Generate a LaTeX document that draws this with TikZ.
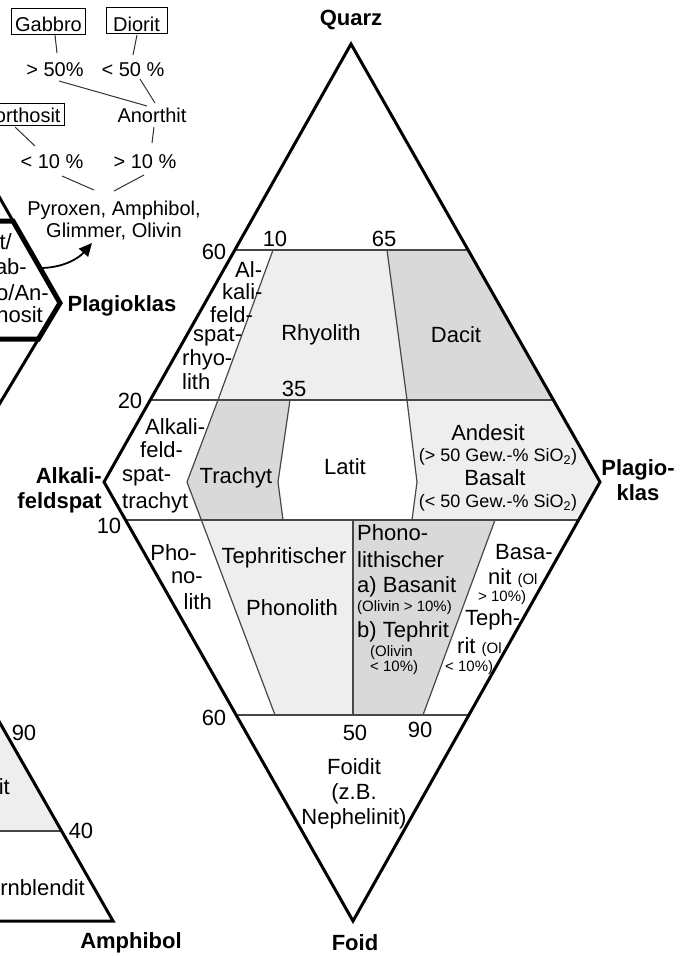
\documentclass[tikz,border=0pt]{standalone}
\usepackage{fontspec}
\setmainfont{Liberation Sans}
\usetikzlibrary{calc,arrows.meta}
\definecolor{lg}{gray}{0.935}
\definecolor{mg}{gray}{0.85}
\begin{document}
\begin{tikzpicture}[x=1pt,y=-1pt,
  rim/.style={line width=3pt, line join=miter},
  hexa/.style={line width=5pt, line join=miter},
  divl/.style={line width=1.2pt, draw=black!72},
  link/.style={line width=1pt, draw=black!80},
  lab/.style={inner sep=0pt, font=\fontsize{22}{23}\selectfont},
  blab/.style={inner sep=0pt, font=\fontsize{22}{25}\selectfont\bfseries},
  mid/.style={inner sep=0pt, font=\fontsize{18}{20}\selectfont},
  sml/.style={inner sep=0pt, font=\fontsize{15}{16}\selectfont},
  tree/.style={inner sep=0pt, font=\fontsize{20}{22}\selectfont},
  boxed/.style={tree, draw, line width=0.9pt, inner xsep=4pt, inner ysep=2.5pt, text height=21pt, text depth=0pt},
  boxedb/.style={tree, draw, line width=0.9pt, inner xsep=4pt, inner ysep=3.7pt, text height=15pt, text depth=0pt}]
\useasboundingbox (0,0) rectangle (684,956);
\fill[white] (0,0) rectangle (684,956);
\clip (0,0) rectangle (684,956);

% ---------------- main QAPF diamond ----------------
\coordinate (Q) at (351,44);
\coordinate (A) at (104,482);
\coordinate (P) at (600,482);
\coordinate (F) at (353,921);
\coordinate (q60l) at ($(Q)!0.4703!(A)$);
\coordinate (q60r) at ($(Q)!0.4703!(P)$);
\coordinate (q20l) at ($(Q)!0.8128!(A)$);
\coordinate (q20r) at ($(Q)!0.8128!(P)$);
\coordinate (f10l) at ($(A)!0.0866!(F)$);
\coordinate (f10r) at ($(P)!0.0866!(F)$);
\coordinate (f60l) at ($(A)!0.5308!(F)$);
\coordinate (f60r) at ($(P)!0.5308!(F)$);

% fills
\fill[lg] (273,250) -- (387,250) -- (407,400) -- (218,400) -- cycle;
\fill[mg] (387,250) -- (q60r) -- (q20r) -- (407,400) -- cycle;
\fill[mg] (218,400) -- (290,400) -- (278,482) -- (283,520) -- (201,520) -- (187,482) -- cycle;
\fill[lg] (407,400) -- (q20r) -- (P) -- (f10r) -- (412,520) -- (417,482) -- cycle;
\fill[lg] (201,520) -- (353,520) -- (353,715) -- (275,715) -- cycle;
\fill[mg] (353,520) -- (495,520) -- (423,715) -- (353,715) -- cycle;

% dividing lines
\draw[divl] (273,250) -- (218,400) -- (187,482) -- (275,715);
\draw[divl] (387,250) -- (407,400) -- (417,482) -- (412,520);
\draw[divl] (290,400) -- (278,482) -- (283,520);
\draw[divl] (353,520) -- (353,715);
\draw[divl] (495,520) -- (423,715);
\draw[divl] (q60l) -- (q60r);
\draw[divl] (q20l) -- (q20r);
\draw[divl] (f10l) -- (f10r);
\draw[divl] (f60l) -- (f60r);

\draw[rim] (Q) -- (P) -- (F) -- (A) -- cycle;

% corner labels
\node[blab] (quarz) at (351,20) {Quarz};
\node[blab] (foid) at (355,943) {Foid};
\node[blab, align=center] (plag) at (638,480) {Plagio-\\klas};
\node[blab, align=right, anchor=east] (alk) at (102,490) {Alkali-\\feldspat};

% numbers
\node[lab] (n60a) at (214,252) {60};
\node[lab] (n10a) at (275,239) {10};
\node[lab] (n65) at (384,239) {65};
\node[lab] (n20) at (130,401) {20};
\node[lab] (n35) at (294,389) {35};
\node[lab] (n10b) at (109,526) {10};
\node[lab] (n60b) at (214,718) {60};
\node[lab] (n50) at (355,733) {50};
\node[lab] (n90) at (420,730) {90};

% field labels
\node[lab, anchor=west] (afr1) at (235,270) {Al-};
\node[lab, anchor=west] (afr2) at (222,292) {kali-};
\node[lab, anchor=west] (afr3) at (210,315) {feld-};
\node[lab, anchor=west] (afr4) at (193,337) {spat-};
\node[lab, anchor=west] (afr5) at (182,360) {rhyo-};
\node[lab, anchor=west] (afr6) at (182,382) {lith};
\node[lab] (rhy) at (321,335) {Rhyolith};
\node[lab] (dac) at (456,335) {Dacit};

\node[lab, anchor=west] (aft1) at (145,427) {Alkali-};
\node[lab, anchor=west] (aft2) at (140,450) {feld-};
\node[lab, anchor=west] (aft3) at (122,477) {spat-};
\node[lab, anchor=west] (aft4) at (122,503) {trachyt};
\node[lab] (tra) at (236,478) {Trachyt};
\node[lab] (lat) at (345,467) {Latit};

\node[lab] (and) at (488,433) {Andesit};
\node[mid] (and2) at (498,457) {(> 50 Gew.-\% SiO\textsubscript{2})};
\node[lab] (bas) at (495,478) {Basalt};
\node[mid] (bas2) at (498,503) {(< 50 Gew.-\% SiO\textsubscript{2})};

\node[lab, anchor=east] (ph1) at (197,553) {Pho-};
\node[lab, anchor=east] (ph2) at (203,578) {no-};
\node[lab, anchor=east] (ph3) at (212,602) {lith};
\node[lab] (tp1) at (284,558) {Tephritischer};
\node[lab] (tp2) at (292,608) {Phonolith};

\node[lab, anchor=west] (pb1) at (357,533) {Phono-};
\node[lab, anchor=west] (pb2) at (357,560) {lithischer};
\node[lab, anchor=west] (pb3) at (357,587) {a) Basanit};
\node[sml, anchor=west] (pb4) at (357,608) {(Olivin > 10\%)};
\node[lab, anchor=west] (pb5) at (357,632) {b) Tephrit};
\node[sml, anchor=west] (pb6) at (370,653) {(Olivin};
\node[sml, anchor=west] (pb7) at (370,668) {< 10\%)};

\node[lab, anchor=west] (bt1) at (495,552) {Basa-};
\node[lab, anchor=west] (bt2) at (488,578) {nit {\fontsize{15}{16}\selectfont (Ol}};
\node[sml, anchor=west] (bt3) at (478,598) {> 10\%)};
\node[lab, anchor=west] (bt4) at (465,620) {Teph-};
\node[lab, anchor=west] (bt5) at (457,647) {rit {\fontsize{15}{16}\selectfont (Ol}};
\node[sml, anchor=west] (bt6) at (445,668) {< 10\%)};

\node[lab, align=center, font=\fontsize{22}{25}\selectfont] (foidit) at (354,794) {Foidit\\(z.B.\\Nephelinit)};

% ---------------- left plutonic diagram ----------------
\coordinate (P2) at (60,303);
\draw[rim] (-40,128.5) -- (P2) -- (-40,469.7);
\draw[hexa] (-40,221) -- (13,221) -- (P2) -- (38.4,339) -- (-40,339);
\node[lab, anchor=east] (hx1) at (12,242) {Diorit/};
\node[lab, anchor=east] (hx2) at (27,267) {Gab-};
\node[lab, anchor=east] (hx3) at (49,293) {bro/An-};
\node[lab, anchor=east] (hx4) at (43,315) {orthosit};
\node[blab] (plag2) at (122,306) {Plagioklas};

% ---------------- decision tree ----------------
\node[boxed, anchor=base] (gab) at (48.5,31.5) {Gabbro};
\node[boxed, anchor=base, minimum width=61pt] (dio) at (136.5,31) {Diorit};
\node[tree] (g50) at (55,70) {> 50\%};
\node[tree] (d50) at (133,70) {< 50 \%};
\node[tree] (ant) at (152,115) {Anorthit};
\node[boxedb, anchor=east] (ano) at (65,114.5) {Anorthosit};
\node[tree] (l10) at (52,162) {< 10 \%};
\node[tree] (g10) at (145,162) {> 10 \%};
\node[tree, align=center] (pyr) at (114,221) {Pyroxen, Amphibol,\\Glimmer, Olivin};

\path (55,35) coordinate (c1a) (57,53) coordinate (c1b)
      (137,35) coordinate (c2a) (133,55) coordinate (c2b)
      (59,81) coordinate (c3a) (147,106) coordinate (c3b)
      (140,79) coordinate (c4a) (155,103) coordinate (c4b)
      (15,127) coordinate (c5a) (35,146) coordinate (c5b)
      (154,127) coordinate (c6a) (152,143) coordinate (c6b)
      (62,176) coordinate (c7a) (94,190) coordinate (c7b)
      (144,175) coordinate (c8a) (114,191) coordinate (c8b);
\draw[link] (c1a) -- (c1b);
\draw[link] (c2a) -- (c2b);
\draw[link] (c3a) -- (c3b);
\draw[link] (c4a) -- (c4b);
\draw[link] (c5a) -- (c5b);
\draw[link] (c6a) -- (c6b);
\draw[link] (c7a) -- (c7b);
\draw[link] (c8a) -- (c8b);

\coordinate (arrS) at (40,268);
\coordinate (arrE) at (92,243);
\draw[line width=1.8pt, -{Triangle[length=13pt,width=12pt]}] (arrS) .. controls (62,268) and (78,259) .. (arrE);

% ---------------- lower left triangle ----------------
\coordinate (Am) at (113,921);
\fill[lg] (-40,723) -- (0,723) -- (61.7,831) -- (-40,831) -- cycle;
\draw[divl] (-40,831) -- (61.7,831);
\draw[rim] (-40,653) -- (Am) -- (-40,921);
\node[lab] (m90) at (24,733) {90};
\node[lab] (m40) at (81,831) {40};
\node[lab, anchor=east] (px) at (10,789) {Pyroxenit};
\node[lab, anchor=east] (hb) at (85,888) {Hornblendit};
\node[blab] (amph) at (131,943) {Amphibol};
\end{tikzpicture}
\end{document}
